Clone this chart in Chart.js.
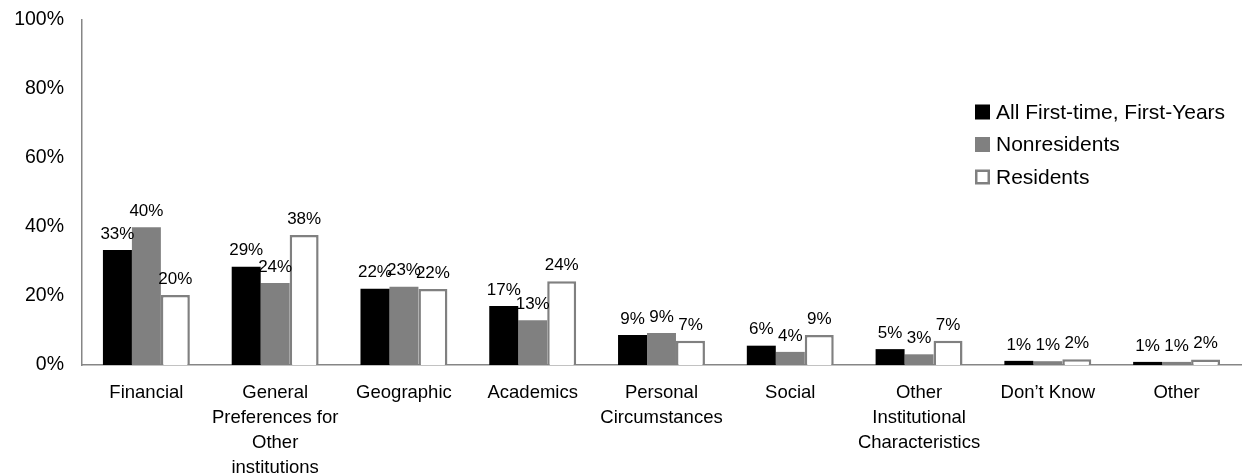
<!DOCTYPE html>
<html>
<head>
<meta charset="utf-8">
<script src="https://cdn.jsdelivr.net/npm/chart.js@4"></script>
<style>
  html, body { margin: 0; padding: 0; background: #fff; }
  #wrap { width: 1243px; height: 476px; position: relative; }
</style>
</head>
<body>
<div id="wrap"><canvas id="reasons-chart"></canvas></div>
<script>
// categories and series (percent)
const categories = [
    'Financial',
    ['General', 'Preferences for', 'Other', 'institutions'],
    'Geographic',
    'Academics',
    ['Personal', 'Circumstances'],
    'Social',
    ['Other', 'Institutional', 'Characteristics'],
    'Don\u2019t Know',
    'Other'
];
const seriesNames = ['All First-time, First-Years', 'Nonresidents', 'Residents'];
const allFirstYears = [33.3, 28.5, 22.1, 17.1, 8.7, 5.6, 4.6, 1.2, 0.9];
const nonresidents = [39.9, 23.8, 22.7, 13.0, 9.3, 3.8, 3.1, 1.1, 0.9];
const residents = [20.3, 37.7, 22.0, 24.3, 7.0, 8.7, 7.0, 1.7, 1.6];
const yTicks = [0, 20, 40, 60, 80, 100];

const FONT = '"Liberation Sans", Arial, sans-serif';
const GREY = '#808080';
const AXIS = '#868686';

// labels above each bar
const barLabels = {
    id: 'barLabels',
    afterDatasetsDraw(chart) {
        const ctx = chart.ctx;
        ctx.save();
        ctx.font = '17px ' + FONT;
        ctx.fillStyle = '#000';
        ctx.textAlign = 'center';
        ctx.textBaseline = 'middle';
        chart.data.datasets.forEach((ds, i) => {
            chart.getDatasetMeta(i).data.forEach((bar, j) => {
                ctx.fillText(Math.round(ds.data[j]) + '%', bar.x, bar.y - 16);
            });
        });
        ctx.restore();
    }
};

// legend drawn inside the plot, right side
const insideLegend = {
    id: 'insideLegend',
    afterDraw(chart) {
        const ctx = chart.ctx;
        const x = 975, y0 = 112, gap = 32.5, box = 15;
        ctx.save();
        ctx.font = '21px ' + FONT;
        ctx.textBaseline = 'middle';
        ctx.textAlign = 'left';
        chart.data.datasets.forEach((ds, i) => {
            const y = y0 + i * gap;
            ctx.fillStyle = ds.backgroundColor;
            ctx.fillRect(x, y - box / 2, box, box);
            if (ds.borderWidth) {
                ctx.strokeStyle = ds.borderColor;
                ctx.lineWidth = 2.5;
                ctx.strokeRect(x + 1.25, y - box / 2 + 1.25, box - 2.5, box - 2.5);
            }
            ctx.fillStyle = '#000';
            ctx.fillText(ds.label, x + 21, y + 1);
        });
        ctx.restore();
    }
};

const ctx = document.getElementById('reasons-chart').getContext('2d');
new Chart(ctx, {
    type: 'bar',
    data: {
        labels: categories,
        datasets: [
            { label: seriesNames[0], data: allFirstYears, backgroundColor: '#000000', borderWidth: 0 },
            { label: seriesNames[1], data: nonresidents, backgroundColor: GREY, borderWidth: 0 },
            { label: seriesNames[2], data: residents, backgroundColor: '#ffffff', borderColor: GREY, borderWidth: 2.5 }
        ]
    },
    options: {
        responsive: true,
        maintainAspectRatio: false,
        animation: false,
        layout: { padding: { top: 20, right: 2, bottom: 0, left: 0 } },
        datasets: { bar: { categoryPercentage: 0.675, barPercentage: 1 } },
        plugins: { legend: { display: false }, tooltip: { enabled: false } },
        scales: {
            x: {
                grid: { display: false, drawTicks: false },
                border: { display: true, color: AXIS, width: 1.5 },
                ticks: {
                    color: '#000',
                    font: { family: FONT, size: 18.5, lineHeight: 1.35 },
                    padding: 15,
                    autoSkip: false,
                    maxRotation: 0,
                    minRotation: 0
                },
                afterFit: scale => {
                    scale.height = 111;
                    scale.paddingLeft = 0;
                    scale.paddingRight = 0;
                }
            },
            y: {
                min: 0,
                max: 100,
                afterBuildTicks: scale => { scale.ticks = yTicks.map(v => ({ value: v })); },
                grid: { display: false, drawTicks: false },
                border: { display: true, color: AXIS, width: 1.5 },
                ticks: {
                    color: '#000',
                    font: { family: FONT, size: 19.5 },
                    padding: 18,
                    callback: v => v + '%'
                },
                afterFit: scale => {
                    scale.width = 82;
                    scale.paddingTop = 0;
                    scale.paddingBottom = 0;
                }
            }
        }
    },
    plugins: [barLabels, insideLegend]
});
</script>
</body>
</html>
